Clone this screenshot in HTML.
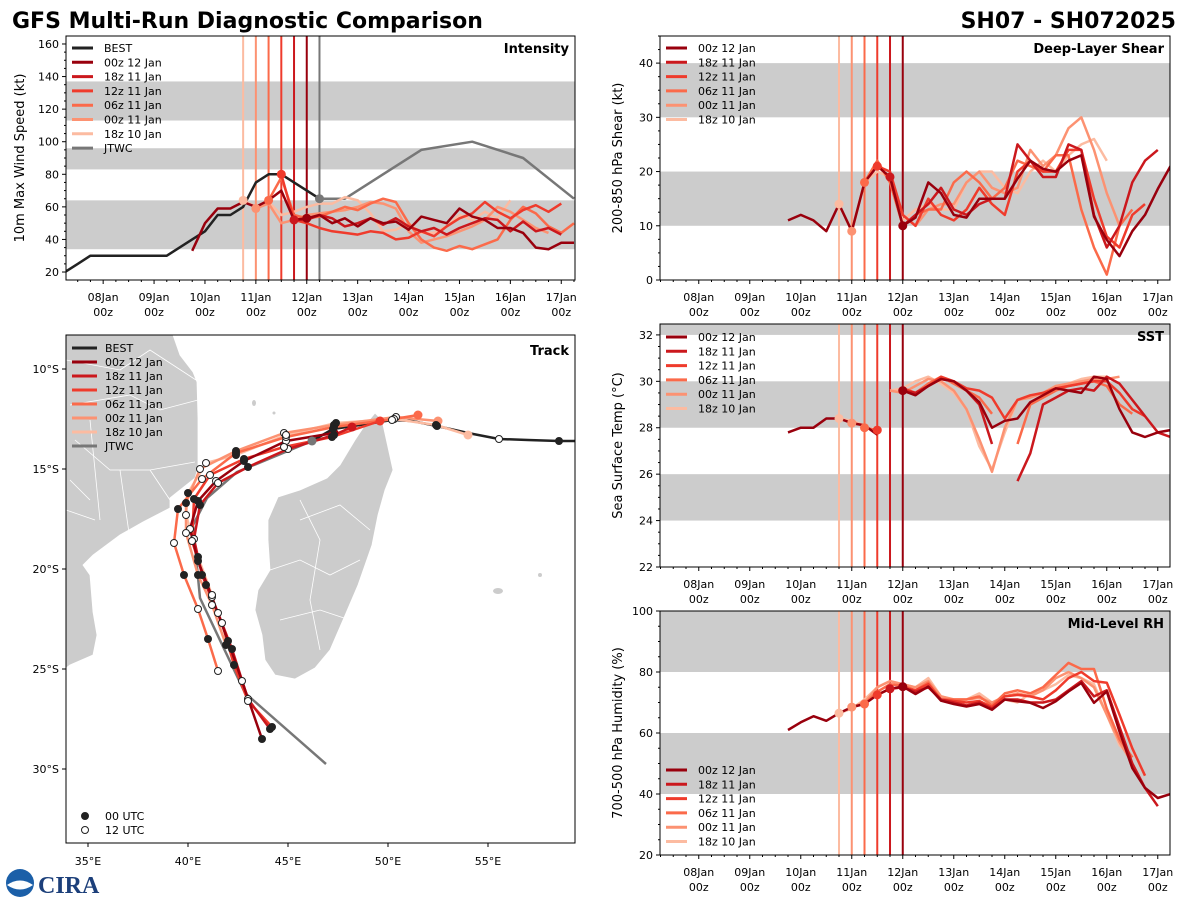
<!DOCTYPE html>
<html><head><meta charset="utf-8"><style>
body{margin:0;background:#fff;}
svg{display:block;font-family:"DejaVu Sans","Liberation Sans",sans-serif;}
</style></head><body>
<svg id="fig" width="1200" height="900" viewBox="0 0 1200 900" xmlns="http://www.w3.org/2000/svg">
<rect width="1200" height="900" fill="#fff"/>
<text x="12" y="28" font-size="22" font-weight="bold">GFS Multi-Run Diagnostic Comparison</text>
<text x="1176" y="28" font-size="22" font-weight="bold" text-anchor="end">SH07 - SH072025</text>
<g>
<circle cx="20" cy="883" r="14" fill="#1b5fa8"/><path d="M7 885 Q20 876 33 885 Q20 894 7 885Z" fill="#fff"/>
<text x="38" y="893" font-size="24" font-weight="bold" fill="#1c3f7a" font-family="Liberation Serif,serif">CIRA</text>
</g>
</svg>
<script>
const NS='http://www.w3.org/2000/svg';
const svg=document.getElementById('fig');
function el(tag,attrs,parent){const e=document.createElementNS(NS,tag);for(const k in attrs)e.setAttribute(k,attrs[k]);(parent||svg).appendChild(e);return e;}

// ---- shared data ----
const runNames=['00z 12 Jan','18z 11 Jan','12z 11 Jan','06z 11 Jan','00z 11 Jan','18z 10 Jan'];
const runInit=[12.0,11.75,11.5,11.25,11.0,10.75];
const runColors=['#99000d','#cb181d','#ef3b2c','#fb6a4a','#fc9272','#fcbba1'];
const dayLabels=['08Jan','09Jan','10Jan','11Jan','12Jan','13Jan','14Jan','15Jan','16Jan','17Jan'];
const dayValues=[8,9,10,11,12,13,14,15,16,17];

// intensity (kt), 6-hourly from start
const bestIntStart=7.25;
const bestInt=[20,25,30,30,30,30,30,30,30,35,40,45,55,55,60,75,80,80,75,70,65];
const jtwcIntTimes=[12.25,12.75,14.25,15.25,16.25,17.25];
const jtwcInt=[65,65,95,100,90,65];
const intStart=[9.75,11.75,11.5,11.25,11.0,10.75];
const int00z12=[33,50,59,59,63,60,64,70,52,53,55,50,53,48,53,50,51,46,54,52,50,59,54,52,47,47,44,35,34,38,38];
const int18z11=[52,52,55,53,48,50,53,49,53,48,45,47,43,47,50,53,52,45,51,45,47,43];
const int12z11=[80,52,50,47,45,44,43,45,44,40,41,45,42,48,53,56,63,57,53,58,61,57,62];
const int06z11=[64,78,55,53,54,57,60,58,62,65,63,50,40,35,33,36,34,37,40,52,60,56,48,44,50];
const int00z11=[59,62,50,52,55,56,57,58,60,63,62,59,45,38,40,42,45,48,52,60,57,52,47,44];
const int18z10=[64,60,63,55,57,60,62,62,66,64,56,45,46,50,44,44,48,55,52,57,53,64];

// shear (kt)
const shrStart=[9.75,11.75,11.5,11.25,11.0,10.75];
const shr00z12=[11,12,11,9,14,9,18,21,19,10,11.5,18,16,12,11.5,15,15,15,18.7,22,20.5,20,22,23,11.7,7.4,4.4,9,12,16.8,21];
const shr18z11=[19,10,12,14,17,13,12,14,15,15,25,22,19,19,25,24,12,6,10,18,22,24];
const shr12z11=[21,20,12,10,15,12,11,13,17,14,12,20,22,20,20,24,24,15,8,6,12,14];
const shr06z11=[18,22,18,10,12,13,13,18,20,18,15,17,22,21,20,23,23,13,6,1,10,13];
const shr00z11=[9,18,22,18,12,10,13,14,14,18,20,17,16,17,24,21,23,28,30,24,16,10];
const shr18z10=[14,9,18,20,19,11,13,14,13,13,18,20,20,17,16,20,22,20,23,25,26,22];

// SST (C)
const sstStart=[9.75,11.75,11.5,11.25,11.0,10.75];
const sst00z12=[27.8,28.0,28.0,28.4,28.4,28.2,28.1,27.7,null,29.6,29.4,29.8,30.1,30.0,29.6,29.1,28.0,28.3,28.4,29.1,29.4,29.7,29.6,29.5,30.2,30.1,28.8,27.8,27.6,27.8,27.9];
const sst18z11=[null,29.6,29.5,29.8,30.1,30.0,29.6,29.0,27.3,null,25.7,26.9,29.0,29.3,29.6,29.7,29.6,30.2,29.9,29.2,28.5,27.8,27.6,27.5];
const sst12z11=[27.9,null,29.7,29.5,29.8,30.2,30.0,29.7,29.6,29.3,28.4,29.2,29.4,29.5,29.7,29.8,29.9,30.0,30.0,29.5,28.8,28.5];
const sst06z11=[28.0,27.9,null,29.7,29.5,29.9,30.2,29.9,29.6,29.3,28.6,null,27.3,29.0,29.3,29.6,29.8,29.9,30.0,29.8,29.0,28.6];
const sst00z11=[28.2,28.1,null,29.6,29.5,29.8,30.1,30.0,29.6,28.8,27.5,26.1,28.0,29.2,29.3,29.5,29.8,29.9,30.0,30.1,30.1,30.2];
const sst18z10=[28.4,28.3,28.1,null,29.6,29.7,30.0,30.2,29.9,29.5,28.8,27.2,26.2,27.8,29.2,29.4,29.5,29.7,29.9,30.1,30.2,30.2];

// RH (%)
const rhStart=[9.75,11.75,11.5,11.25,11.0,10.75];
const rh00z12=[61,63.5,65.5,64,66.5,68.5,69.5,72.5,74.5,75.2,72.8,75.2,70.6,69.5,68.7,69.5,67.6,71,70.4,69.9,68.2,70.4,73.6,76.4,69.9,73.6,60.5,48.5,42,38.7,40];
const rh18z11=[74.5,75,73.5,75,71,70,69,70,68,71,71,70,70,71,74,77,72,74,62,50,42,36];
const rh12z11=[72.5,74.5,75,74,76,71,70.5,70,70.5,68.5,72,72.5,72,71,74,78,80,77,76.5,66,55,46];
const rh06z11=[69.5,73.5,76,75.5,74,76.5,71,71,71,72,69,73,74,73,75,79,83,81,81,68,58,52];
const rh00z11=[68.5,70,75,77,76,75,77,72,71,71,71.5,70,72,73,72,74,78,80,78,75,66,57,50];
const rh18z10=[66.5,68,71,75,77,76,75,78,72,71,71,73,70,71,70,73,74,76,79,78,76,66,56,52];

// ---- time-series panel ----
function panel(o){
  const g=el('g',{});  
  const X=t=>o.x0+(t-o.tmin)/(o.tmax-o.tmin)*(o.x1-o.x0);
  const Y=v=>o.y1-(v-o.vmin)/(o.vmax-o.vmin)*(o.y1-o.y0);
  const clip='clip-'+o.name;
  const cp=el('clipPath',{id:clip},g); el('rect',{x:o.x0,y:o.y0,width:o.x1-o.x0,height:o.y1-o.y0},cp);
  const body=el('g',{'clip-path':'url(#'+clip+')'},g);
  o.bands.forEach(b=>{const r=el('rect',{x:o.x0,y:Y(Math.min(b[1],o.vmax+5)),width:o.x1-o.x0,height:Y(b[0])-Y(Math.min(b[1],o.vmax+5)),fill:'#cccccc'},body);
    });
  runInit.forEach((t,i)=>{const l=el('line',{x1:X(t),x2:X(t),y1:o.y0,y2:o.y1,stroke:runColors[i],'stroke-width':2},body);
    });
  if(o.jtwcLine){const l=el('line',{x1:X(o.jtwcLine),x2:X(o.jtwcLine),y1:o.y0,y2:o.y1,stroke:'#777','stroke-width':2},body);
    }
  function drawSeries(times,vals,color,name,w){
    let d='',pen=false;
    vals.forEach((v,k)=>{if(v===null){pen=false;return;}d+=(pen?'L':'M')+X(times[k]).toFixed(1)+' '+Y(v).toFixed(1);pen=true;});
    const p=el('path',{d:d,fill:'none',stroke:color,'stroke-width':w||2.5,'stroke-linejoin':'round'},body);
    
  }
  if(o.best){drawSeries(o.best.vals.map((v,k)=>o.best.start+k*0.25),o.best.vals,'#222','best-series');}
  if(o.jtwc){drawSeries(o.jtwc.times,o.jtwc.vals,'#777','jtwc-series');}
  for(let i=o.series.length-1;i>=0;i--){
    const s=o.series[i];const times=s.vals.map((v,k)=>s.start+k*0.25);
    drawSeries(times,s.vals,runColors[i],'series-'+runNames[i].replace(/ /g,'-'));
  }
  o.series.forEach((s,i)=>{const k=Math.round((runInit[i]-s.start)/0.25);const v=s.vals[k];
    if(v!==null&&v!==undefined){const c=el('circle',{cx:X(runInit[i]),cy:Y(v),r:4.5,fill:runColors[i]},body);
      }});
  if(o.jtwc){const c=el('circle',{cx:X(o.jtwc.times[0]),cy:Y(o.jtwc.vals[0]),r:4.5,fill:'#777'},body);}
  el('rect',{x:o.x0,y:o.y0,width:o.x1-o.x0,height:o.y1-o.y0,fill:'none',stroke:'#000','stroke-width':1},g);
  for(let v=Math.ceil(o.vmin/o.minor)*o.minor;v<=o.vmax;v+=o.minor){const y=Y(v);
    const major=Math.abs(v/o.major-Math.round(v/o.major))<1e-6;
    el('line',{x1:o.x0,x2:o.x0-(major?4:2),y1:y,y2:y,stroke:'#000','stroke-width':1},g);
    if(major){const t=el('text',{x:o.x0-7,y:y+4,'font-size':11,'text-anchor':'end'},g);t.textContent=String(Math.round(v));
      }}
  for(let t=Math.ceil(o.tmin*4)/4;t<=o.tmax;t+=0.25){const x=X(t);const major=Math.abs(t-Math.round(t))<1e-6;
    el('line',{x1:x,x2:x,y1:o.y1,y2:o.y1+(major?4:2),stroke:'#000'},g);}
  dayValues.forEach((d,k)=>{const x=X(d);
    const t1=el('text',{x:x,y:o.y1+21,'font-size':11,'text-anchor':'middle'},g);t1.textContent=dayLabels[k];
    
    const t2=el('text',{x:x,y:o.y1+36,'font-size':11,'text-anchor':'middle'},g);t2.textContent='00z';
    });
  const yl=el('text',{x:0,y:0,'font-size':13,'text-anchor':'middle',transform:`translate(${o.ylx},${(o.y0+o.y1)/2}) rotate(-90)`},g);yl.textContent=o.ylabel;
  
  const tt=el('text',{x:o.x1-6,y:o.y0+17,'font-size':13,'font-weight':'bold','text-anchor':'end'},g);tt.textContent=o.title;
  
  const entries=[];if(o.best)entries.push(['BEST','#222']);runNames.forEach((n,i)=>entries.push([n,runColors[i]]));if(o.jtwc)entries.push(['JTWC','#777']);
  entries.forEach((e,k)=>{const y=o.legY+k*14.3;
    const lg=el('g',{},g);
    el('line',{x1:o.x0+6,x2:o.x0+27,y1:y,y2:y,stroke:e[1],'stroke-width':3},lg);
    const t=el('text',{x:o.x0+38,y:y+4,'font-size':11},lg);t.textContent=e[0];});
}

panel({name:'intensity-panel',x0:66,x1:575,y0:36,y1:280,tmin:7.27,tmax:17.27,vmin:15.1,vmax:164.9,major:20,minor:5,
  bands:[[34,64],[83,96],[113,137]],title:'Intensity',ylabel:'10m Max Wind Speed (kt)',ylx:24,legY:48,jtwcLine:12.25,
  best:{start:bestIntStart,vals:bestInt},jtwc:{times:jtwcIntTimes,vals:jtwcInt},
  series:[int00z12,int18z11,int12z11,int06z11,int00z11,int18z10].map((v,i)=>({start:intStart[i],vals:v}))});
panel({name:'shear-panel',x0:660,x1:1170,y0:36,y1:280,tmin:7.24,tmax:17.24,vmin:0,vmax:45,major:10,minor:2.5,
  bands:[[10,20],[30,40]],title:'Deep-Layer Shear',ylabel:'200-850 hPa Shear (kt)',ylx:622,legY:48,
  series:[shr00z12,shr18z11,shr12z11,shr06z11,shr00z11,shr18z10].map((v,i)=>({start:shrStart[i],vals:v}))});
panel({name:'sst-panel',x0:660,x1:1170,y0:324,y1:567,tmin:7.24,tmax:17.24,vmin:22,vmax:32.47,major:2,minor:0.5,
  bands:[[24,26],[28,30],[32,34]],title:'SST',ylabel:'Sea Surface Temp (°C)',ylx:622,legY:337,
  series:[sst00z12,sst18z11,sst12z11,sst06z11,sst00z11,sst18z10].map((v,i)=>({start:sstStart[i],vals:v}))});
panel({name:'rh-panel',x0:660,x1:1170,y0:611,y1:855,tmin:7.24,tmax:17.24,vmin:20,vmax:100,major:20,minor:5,
  bands:[[40,60],[80,100]],title:'Mid-Level RH',ylabel:'700-500 hPa Humidity (%)',ylx:622,legY:770,
  series:[rh00z12,rh18z11,rh12z11,rh06z11,rh00z11,rh18z10].map((v,i)=>({start:rhStart[i],vals:v}))});

// ---- track map ----
const lonTicks=[35,40,45,50,55];
const latTicks=[-10,-15,-20,-25,-30];
const africa=[[32.9,-8.3],[39.25,-8.3],[39.6,-9.3],[40.25,-10.15],[40.45,-10.65],[40.5,-12.45],[40.5,-14.95],[40.35,-15.45],[39.1,-16.45],[39.1,-16.95],[37.75,-17.65],[36.6,-18.3],[35.25,-19.3],[34.75,-19.8],[35.1,-20.3],[35.25,-22.15],[35.45,-23.3],[35.25,-24.3],[34.1,-24.8],[33.9,-24.95],[32.9,-25]];
const madagascar=[[49.35,-12.2],[49.7,-12.55],[50.25,-15.05],[49.85,-16.05],[49.5,-17.3],[49.2,-18.8],[48.5,-20.8],[47.75,-22.55],[47.1,-24.05],[46.35,-24.95],[45.35,-25.5],[44.35,-25.3],[43.85,-24.55],[43.7,-23.3],[43.35,-22.05],[43.5,-21.05],[44.1,-20.05],[44.0,-18.55],[44.0,-17.55],[44.5,-16.4],[45.6,-16.05],[46.95,-15.45],[47.6,-14.8],[48.35,-13.55],[48.85,-12.8]];
const bestTrack=[[59.6,-13.6],[58.55,-13.6],[57,-13.55],[55.55,-13.5],[54,-13.2],[52.45,-12.85],[51.2,-12.6],[50.2,-12.55],[48.6,-12.8],[47.25,-13.0],[46.2,-13.6]];
const bestMarkTimes=[null,10.0,null,10.5,null,11.0,null,11.5,null,12.0,null];
const jtwcTrack=[[46.2,-13.6],[42.45,-15.15],[40.95,-16.45],[40.25,-17.8],[40.6,-21.45],[42.85,-26.2],[46.9,-29.75]];
const trk00z12=[[47.3,-13.2],[44.9,-13.6],[42.8,-14.6],[41.4,-15.6],[40.5,-16.6],[40.1,-18.0],[40.5,-19.6],[41.2,-21.4],[42.0,-23.6],[42.7,-25.6],[43.7,-28.5]];
const trk18z11=[[48.2,-12.9],[47.3,-13.3],[45,-14.0],[43.0,-14.9],[41.5,-15.7],[40.6,-16.8],[40.3,-18.5],[40.7,-20.3],[41.5,-22.2],[42.2,-24.0],[43.0,-26.5],[44.1,-28.0]];
const trk12z11=[[49.6,-12.6],[47.2,-13.4],[44.8,-13.9],[42.8,-14.5],[41.1,-15.3],[40.3,-16.5],[40.2,-18.6],[40.9,-20.8],[41.7,-22.7],[42.3,-24.8],[43.0,-26.6],[44.2,-27.9]];
const trk06z11=[[51.5,-12.3],[50.3,-12.5],[47.3,-12.9],[44.9,-13.4],[42.4,-14.2],[40.7,-15.5],[39.5,-17.0],[39.3,-18.7],[39.8,-20.3],[40.5,-22],[41.0,-23.5],[41.5,-25.1]];
const trk00z11=[[52.5,-12.6],[50.4,-12.4],[47.3,-12.8],[44.8,-13.2],[42.4,-14.1],[40.6,-15.0],[39.9,-16.7],[39.9,-18.2],[40.5,-20.3],[41.2,-21.8],[41.9,-23.8]];
const trk18z10=[[54.0,-13.3],[52.4,-12.8],[50.3,-12.5],[47.4,-12.7],[44.9,-13.3],[42.4,-14.3],[40.9,-14.7],[40.0,-16.2],[39.9,-17.3],[40.5,-19.4],[41.2,-21.3]];

(function(){
  const x0=66,x1=575,y0=335,y1=843;
  const LX=lon=>88+(lon-35)*20, LY=lat=>369+(-10-lat)*20;
  const g=el('g',{});
  const cp=el('clipPath',{id:'clip-track'},g);el('rect',{x:x0,y:y0,width:x1-x0,height:y1-y0},cp);
  const body=el('g',{'clip-path':'url(#clip-track)'},g);
  const poly=(pts)=>pts.map(p=>LX(p[0]).toFixed(1)+','+LY(p[1]).toFixed(1)).join(' ');
  const af=el('polygon',{points:poly(africa),fill:'#cccccc',stroke:'#fff','stroke-width':0.8},body);
  
  const mg=el('polygon',{points:poly(madagascar),fill:'#cccccc',stroke:'#fff','stroke-width':0.8},body);
  
  el('path',{d:'M270 570 L300 560 L330 575 L360 560 M280 620 L320 610 L350 620 M300 500 L320 540 L310 600 L320 650 M300 520 L340 505 L370 530 M66 360 L120 370 L150 350 L196 380 M70 405 L130 395 L160 410 L198 400 M75 440 L110 470 L150 470 L195 462 M90 420 L100 520 M120 470 L130 540 M70 480 L90 500 M150 470 L170 500 M66 510 L95 520',fill:'none',stroke:'#fff','stroke-width':0.8},body);
  [[LX(55.5),LY(-21.1),5,3],[LX(57.6),LY(-20.3),2,2],[LX(43.3),LY(-11.7),2,3],[LX(44.3),LY(-12.2),1.5,1.5]].forEach(e=>{
    const c=el('ellipse',{cx:e[0],cy:e[1],rx:e[2],ry:e[3],fill:'#cccccc'},body);});
  function line(pts,color,name,w){const p=el('polyline',{points:poly(pts),fill:'none',stroke:color,'stroke-width':w||2.5,'stroke-linejoin':'round'},body);
    }
  function mark(p,filled){const c=el('circle',{cx:LX(p[0]),cy:LY(p[1]),r:3.5,fill:filled?'#222':'#fff',stroke:'#222','stroke-width':1},body);
    }
  line(bestTrack,'#222','best-track');
  line(jtwcTrack,'#777','jtwc-track');
  const tracks=[trk00z12,trk18z11,trk12z11,trk06z11,trk00z11,trk18z10];
  for(let i=tracks.length-1;i>=0;i--)line(tracks[i],runColors[i],'track-'+runNames[i].replace(/ /g,'-'));
  el('circle',{cx:LX(jtwcTrack[0][0]),cy:LY(jtwcTrack[0][1]),r:4.5,fill:'#777'},body);
  tracks.forEach((tr,i)=>{
    const c=el('circle',{cx:LX(tr[0][0]),cy:LY(tr[0][1]),r:4.5,fill:runColors[i]},body);
    
    let t=Math.ceil(runInit[i]*2)/2;if(t===runInit[i])t+=0.5;
    for(let k=1;k<tr.length;k++){mark(tr[k],Math.abs(t-Math.round(t))<1e-6);t+=0.5;}
  });
  bestTrack.forEach((p,k)=>{const t=bestMarkTimes[k];if(t!==null)mark(p,Math.abs(t-Math.round(t))<1e-6);});
  el('rect',{x:x0,y:y0,width:x1-x0,height:y1-y0,fill:'none',stroke:'#000'},g);
  lonTicks.forEach(l=>{const x=LX(l);el('line',{x1:x,x2:x,y1:y1,y2:y1+4,stroke:'#000'},g);
    const t=el('text',{x:x,y:y1+22,'font-size':11,'text-anchor':'middle'},g);t.textContent=l+'°E';
    });
  latTicks.forEach(l=>{const y=LY(l);el('line',{x1:x0,x2:x0-4,y1:y,y2:y,stroke:'#000'},g);
    const t=el('text',{x:x0-7,y:y+4,'font-size':11,'text-anchor':'end'},g);t.textContent=(-l)+'°S';
    });
  const tt=el('text',{x:x1-6,y:y0+20,'font-size':13,'font-weight':'bold','text-anchor':'end'},g);tt.textContent='Track';
  
  const entries=[['BEST','#222']];runNames.forEach((n,i)=>entries.push([n,runColors[i]]));entries.push(['JTWC','#777']);
  entries.forEach((e,k)=>{const y=348+k*14;const lg=el('g',{},g);
    el('line',{x1:72,x2:97,y1:y,y2:y,stroke:e[1],'stroke-width':3},lg);
    const t=el('text',{x:105,y:y+4,'font-size':11},lg);t.textContent=e[0];});
  [['00 UTC',true,816],['12 UTC',false,830]].forEach(e=>{const lg=el('g',{},g);
    el('circle',{cx:85,cy:e[2],r:3.5,fill:e[1]?'#222':'#fff',stroke:'#222'},lg);
    const t=el('text',{x:105,y:e[2]+4,'font-size':11},lg);t.textContent=e[0];});
})();
</script>
</body></html>
